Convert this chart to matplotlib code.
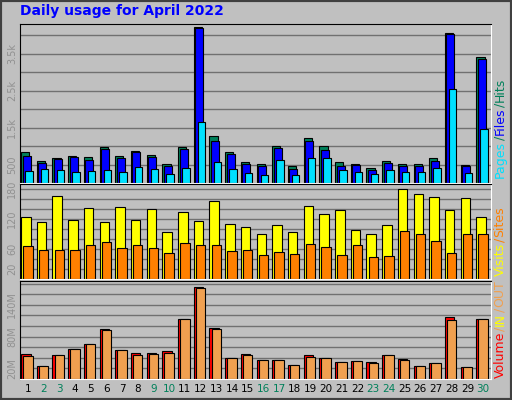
import numpy as np
import matplotlib.pyplot as plt
from matplotlib.patches import Rectangle

days = list(range(1, 31))
weekend = [2, 3, 9, 10, 16, 17, 23, 24, 30]
hits = [843, 593, 676, 731, 704, 981, 731, 870, 759, 509, 981, 4231, 1259, 843, 565,
        509, 1009, 454, 1204, 1009, 565, 509, 398, 593, 509, 509, 676, 4065, 481, 3398]
files = [731, 537, 648, 704, 620, 926, 676, 843, 704, 454, 926, 4204, 1148, 787, 509,
         454, 954, 370, 1148, 898, 454, 481, 343, 537, 454, 454, 593, 4037, 454, 3343]
pages = [315, 370, 343, 287, 315, 343, 287, 426, 370, 231, 398, 1648, 565, 370, 259,
         204, 620, 204, 676, 676, 343, 287, 231, 343, 287, 287, 398, 2537, 259, 1454]
visits = [125, 115, 166, 119, 142, 115, 144, 119, 140, 95, 134, 117, 156, 111, 105,
          91, 109, 95, 146, 131, 138, 99, 91, 109, 180, 170, 164, 138, 162, 125]
sites = [67, 59, 59, 59, 69, 75, 63, 69, 63, 53, 73, 69, 69, 57, 59,
         49, 55, 51, 71, 65, 49, 69, 45, 47, 97, 91, 77, 53, 91, 91]
volume = [48, 25, 46, 57, 67, 95, 55, 50, 50, 52, 114, 174, 97, 40, 48,
          36, 36, 26, 46, 40, 32, 34, 32, 46, 38, 25, 30, 117, 23, 114]
vol_out = [44, 25, 46, 57, 67, 92, 55, 46, 48, 50, 114, 172, 94, 40, 46,
           36, 36, 26, 42, 40, 32, 34, 30, 46, 36, 25, 30, 112, 23, 114]

W, H = 512, 400
fig = plt.figure(figsize=(W / 100, H / 100), dpi=100)
fig.patch.set_facecolor('#C0C0C0')
fig.patches.append(Rectangle((0, 0), 1, 1, transform=fig.transFigure, fill=False,
                             edgecolor='#404040', linewidth=3))
fig.text(20 / W, 1 - 11 / H, 'Daily usage for April 2022', color='#0000FF',
         fontsize=10, fontweight='bold', va='center', ha='left')

def panel(top, bottom):
    ax = fig.add_axes([20 / W, 1 - bottom / H, 471 / W, (bottom - top) / H])
    ax.set_facecolor('#C0C0C0')
    ax.set_xlim(0.5, 30.5)
    for s in ax.spines.values():
        s.set_color('black')
    ax.spines['right'].set_color('white')
    ax.spines['bottom'].set_color('white')
    ax.tick_params(axis='y', length=0, labelsize=7, labelcolor='#909090', pad=2)
    ax.tick_params(axis='x', length=0)
    ax.set_xticks([])
    for lab in ax.get_yticklabels():
        lab.set_rotation(90)
    ax.yaxis.grid(True, color='#707070', linewidth=1)
    ax.set_axisbelow(True)
    return ax

x = np.array(days)
kw = dict(edgecolor='black', linewidth=0.8, align='edge')

ax1 = panel(24, 183)
ax1.bar(x - 0.43, hits, width=0.52, color='#00805A', **kw)
ax1.bar(x - 0.34, files, width=0.51, color='#0000FF', **kw)
ax1.bar(x - 0.17, pages, width=0.47, color='#00E0FF', **kw)
ax1.set_ylim(0, 4300)
ax1.set_yticks(range(500, 4001, 500))
ax1.set_yticklabels(['500', '', '1.5k', '', '2.5k', '', '3.5k', ''], rotation=90, va='center')

ax2 = panel(184, 279)
ax2.bar(x - 0.43, visits, width=0.6, color='#FFFF00', **kw)
ax2.bar(x - 0.3, sites, width=0.6, color='#FF8000', **kw)
ax2.set_ylim(0, 190)
ax2.set_yticks(range(20, 181, 20))
ax2.set_yticklabels(['20', '', '60', '', '', '120', '', '', '180'], rotation=90, va='center')

ax3 = panel(281, 379)
ax3.bar(x - 0.43, volume, width=0.6, color='#FF0000', **kw)
ax3.bar(x - 0.3, vol_out, width=0.6, color='#F0A050', **kw)
ax3.set_ylim(0, 185)
ax3.set_yticks(range(20, 181, 20))
ax3.set_yticklabels(['20M', '', '', '80M', '', '', '140M', '', ''], rotation=90, va='center')
ax3.set_xticks(days)
ax3.set_xticklabels([str(d) for d in days], fontsize=7.5)
for lab, d in zip(ax3.get_xticklabels(), days):
    lab.set_color('#00805A' if d in weekend else 'black')

def side(y, parts):
    # stacked rotated label on the right
    yy = 1 - y / H
    for txt, col in parts:
        t = fig.text(500 / W, yy, txt, color=col, rotation=90, fontsize=9,
                     ha='center', va='bottom')
        fig.canvas.draw()
        bb = t.get_window_extent()
        yy += bb.height / H + 0.002

side(178, [('Pages', '#00E0FF'), ('/', '#00805A'), ('Files', '#0000FF'), ('/', '#00805A'), ('Hits', '#00805A')])
side(276, [('Visits', '#FFFF00'), ('/', '#FF8000'), ('Sites', '#FF8000')])
side(378, [('Volume', '#FF0000'), ('/', '#F0A050'), ('IN', '#FFFF00'), ('/', '#F0A050'), ('OUT', '#F0A050')])

fig.savefig('out.png', dpi=100, facecolor=fig.get_facecolor())
